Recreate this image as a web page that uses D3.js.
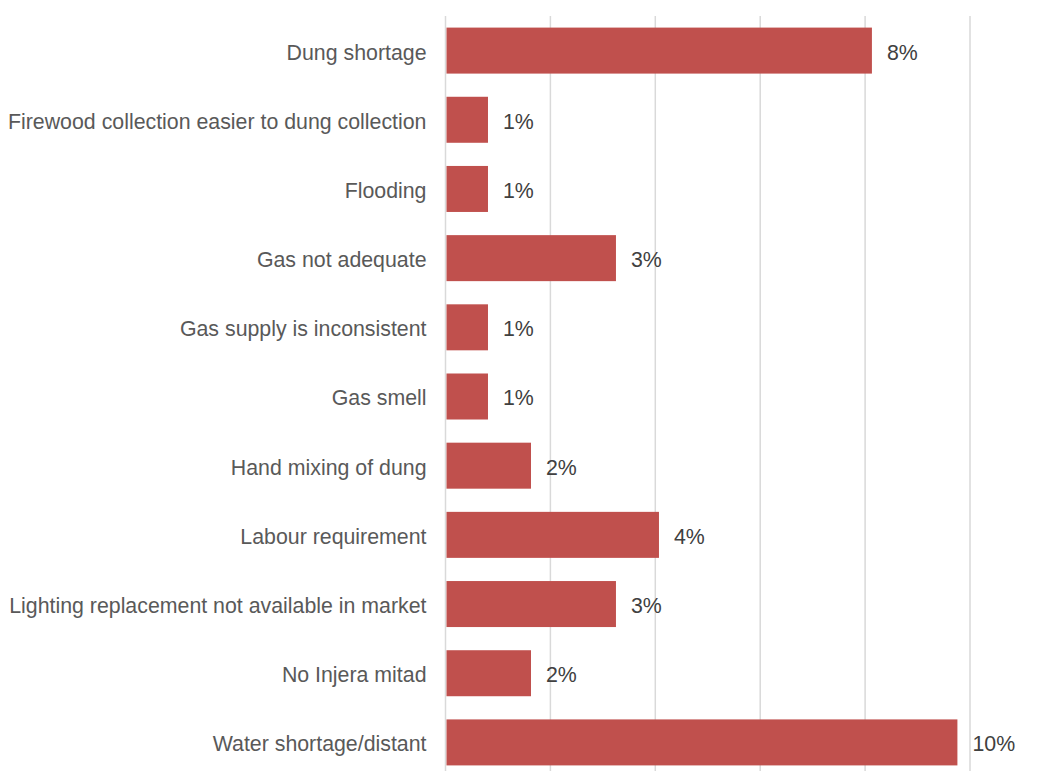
<!DOCTYPE html>
<html>
<head>
<meta charset="utf-8">
<script src="https://cdn.jsdelivr.net/npm/d3@7"></script>
<style>
  html, body { margin: 0; padding: 0; background: #fff; }
  svg { display: block; font-family: "Liberation Sans", Arial, sans-serif; }
</style>
</head>
<body>
<svg id="chart" width="1062" height="771"></svg>
<script>
// Reasons given for not using the biogas system (share of respondents)
const categories = [
  "Dung shortage",
  "Firewood collection easier to dung collection",
  "Flooding",
  "Gas not adequate",
  "Gas supply is inconsistent",
  "Gas smell",
  "Hand mixing of dung",
  "Labour requirement",
  "Lighting replacement not available in market",
  "No Injera mitad",
  "Water shortage/distant"
];
const shares = [0.0813, 0.0081, 0.0081, 0.0325, 0.0081, 0.0081, 0.0163, 0.0407, 0.0325, 0.0163, 0.0976];
const gridTicks = [0, 0.02, 0.04, 0.06, 0.08, 0.10];

const svg = d3.select("#chart");
const x = d3.scaleLinear().domain([0, 0.10]).range([445.5, 970]);
const y = d3.scaleBand().domain(categories).range([16, 777]).paddingInner(0.335).paddingOuter(0.1675);
const fmt = d3.format(".0%");
const fontSize = 21.33;

// vertical gridlines
svg.append("g")
  .selectAll("line")
  .data(gridTicks)
  .join("line")
  .attr("x1", d => x(d)).attr("x2", d => x(d))
  .attr("y1", 16).attr("y2", 771)
  .attr("stroke", "#d9d9d9")
  .attr("stroke-width", 1.5);

// bars
svg.append("g")
  .selectAll("rect")
  .data(categories)
  .join("rect")
  .attr("x", x(0) + 1)
  .attr("y", d => y(d))
  .attr("width", (d, i) => x(shares[i]) - x(0) - 1)
  .attr("height", y.bandwidth())
  .attr("fill", "#c0504d");

// category labels
svg.append("g")
  .selectAll("text")
  .data(categories)
  .join("text")
  .attr("x", x(0) - 19)
  .attr("y", d => y(d) + y.bandwidth() / 2)
  .attr("dy", "0.42em")
  .attr("text-anchor", "end")
  .attr("font-size", fontSize)
  .attr("fill", "#595959")
  .text(d => d);

// value labels
svg.append("g")
  .selectAll("text")
  .data(categories)
  .join("text")
  .attr("x", (d, i) => x(shares[i]) + 15)
  .attr("y", d => y(d) + y.bandwidth() / 2)
  .attr("dy", "0.42em")
  .attr("font-size", fontSize)
  .attr("fill", "#404040")
  .text((d, i) => fmt(shares[i]));
</script>
</body>
</html>
